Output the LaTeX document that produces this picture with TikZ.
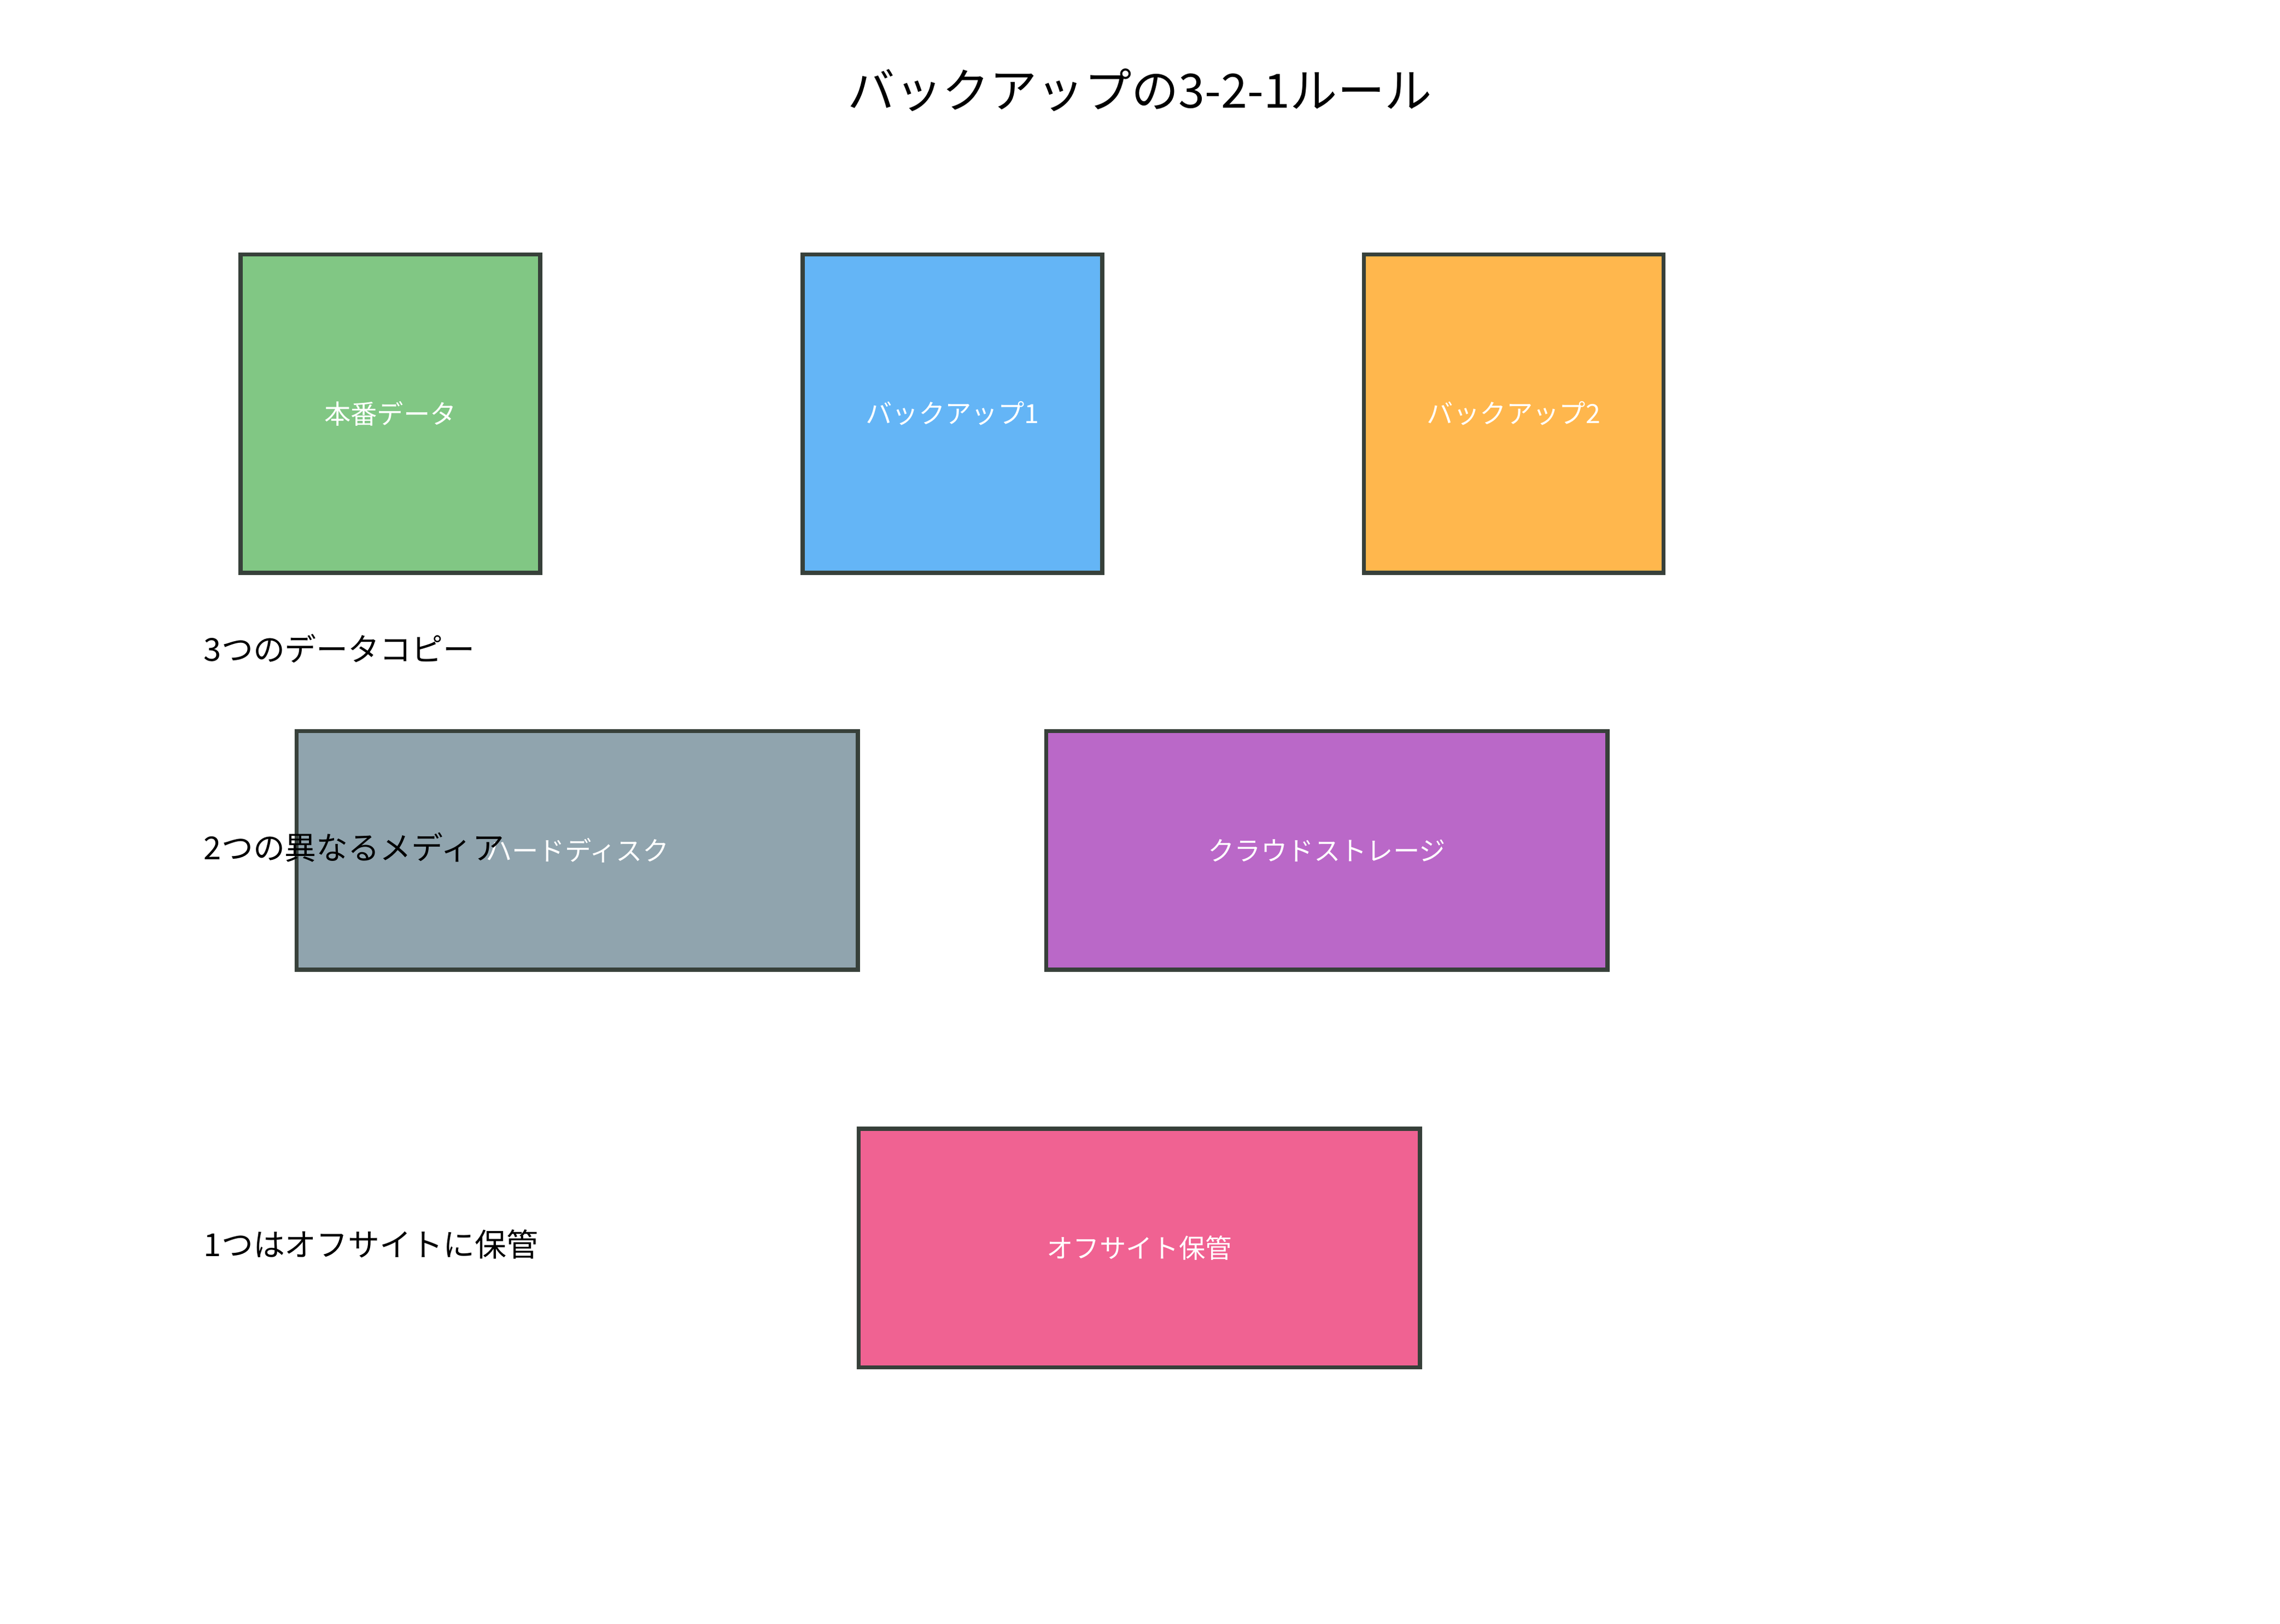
\documentclass[tikz,border=0pt]{standalone}
\usepackage{fontspec}
\setmainfont{Noto Sans CJK JP}
\usepackage{tikz}
\usetikzlibrary{positioning}
\definecolor{boxline}{HTML}{37403A}
\definecolor{prodgreen}{HTML}{81C784}
\definecolor{copyblue}{HTML}{64B5F6}
\definecolor{copyorange}{HTML}{FFB74D}
\definecolor{diskgray}{HTML}{90A4AE}
\definecolor{cloudpurple}{HTML}{BA68C8}
\definecolor{offsitepink}{HTML}{F06292}

\begin{document}
\begin{tikzpicture}[x=1pt, y=-1pt,
  box/.style={draw=boxline, line width=2.8pt, text=white, inner sep=0pt,
    font=\fontsize{18.2}{22}\selectfont},
  square/.style={box, minimum width=206pt, minimum height=219pt},
  wide/.style={box, minimum width=386pt, minimum height=164pt},
  note/.style={anchor=west, inner sep=0pt, font=\fontsize{21.8}{26}\selectfont}]
  \useasboundingbox (0,0) rectangle (1568,1117);

  % Title
  \node[font=\fontsize{32.5}{38}\selectfont] (title) at (784,62) {バックアップの3-2-1ルール};

  % 3つのコピー
  \node[square, fill=prodgreen] (prod) at (268.5,284.5) {本番データ};
  \node[square, fill=copyblue] (copy1) at (655,284.5) {バックアップ1};
  \node[square, fill=copyorange] (copy2) at (1041,284.5) {バックアップ2};

  % 2つのメディア
  \node[wide, fill=diskgray] (disk) at (397,585) {ハードディスク};
  \node[wide, fill=cloudpurple] (cloud) at (912.5,585) {クラウドストレージ};

  % 1つはオフサイト
  \node[wide, fill=offsitepink] (offsite) at (783.5,858.5) {オフサイト保管};

  % Labels
  \node[note] (copies) at (140,446) {3つのデータコピー};
  \node[note] (media) at (140,583) {2つの異なるメディア};
  \node[note] (remote) at (140,856) {1つはオフサイトに保管};
\end{tikzpicture}
\end{document}
